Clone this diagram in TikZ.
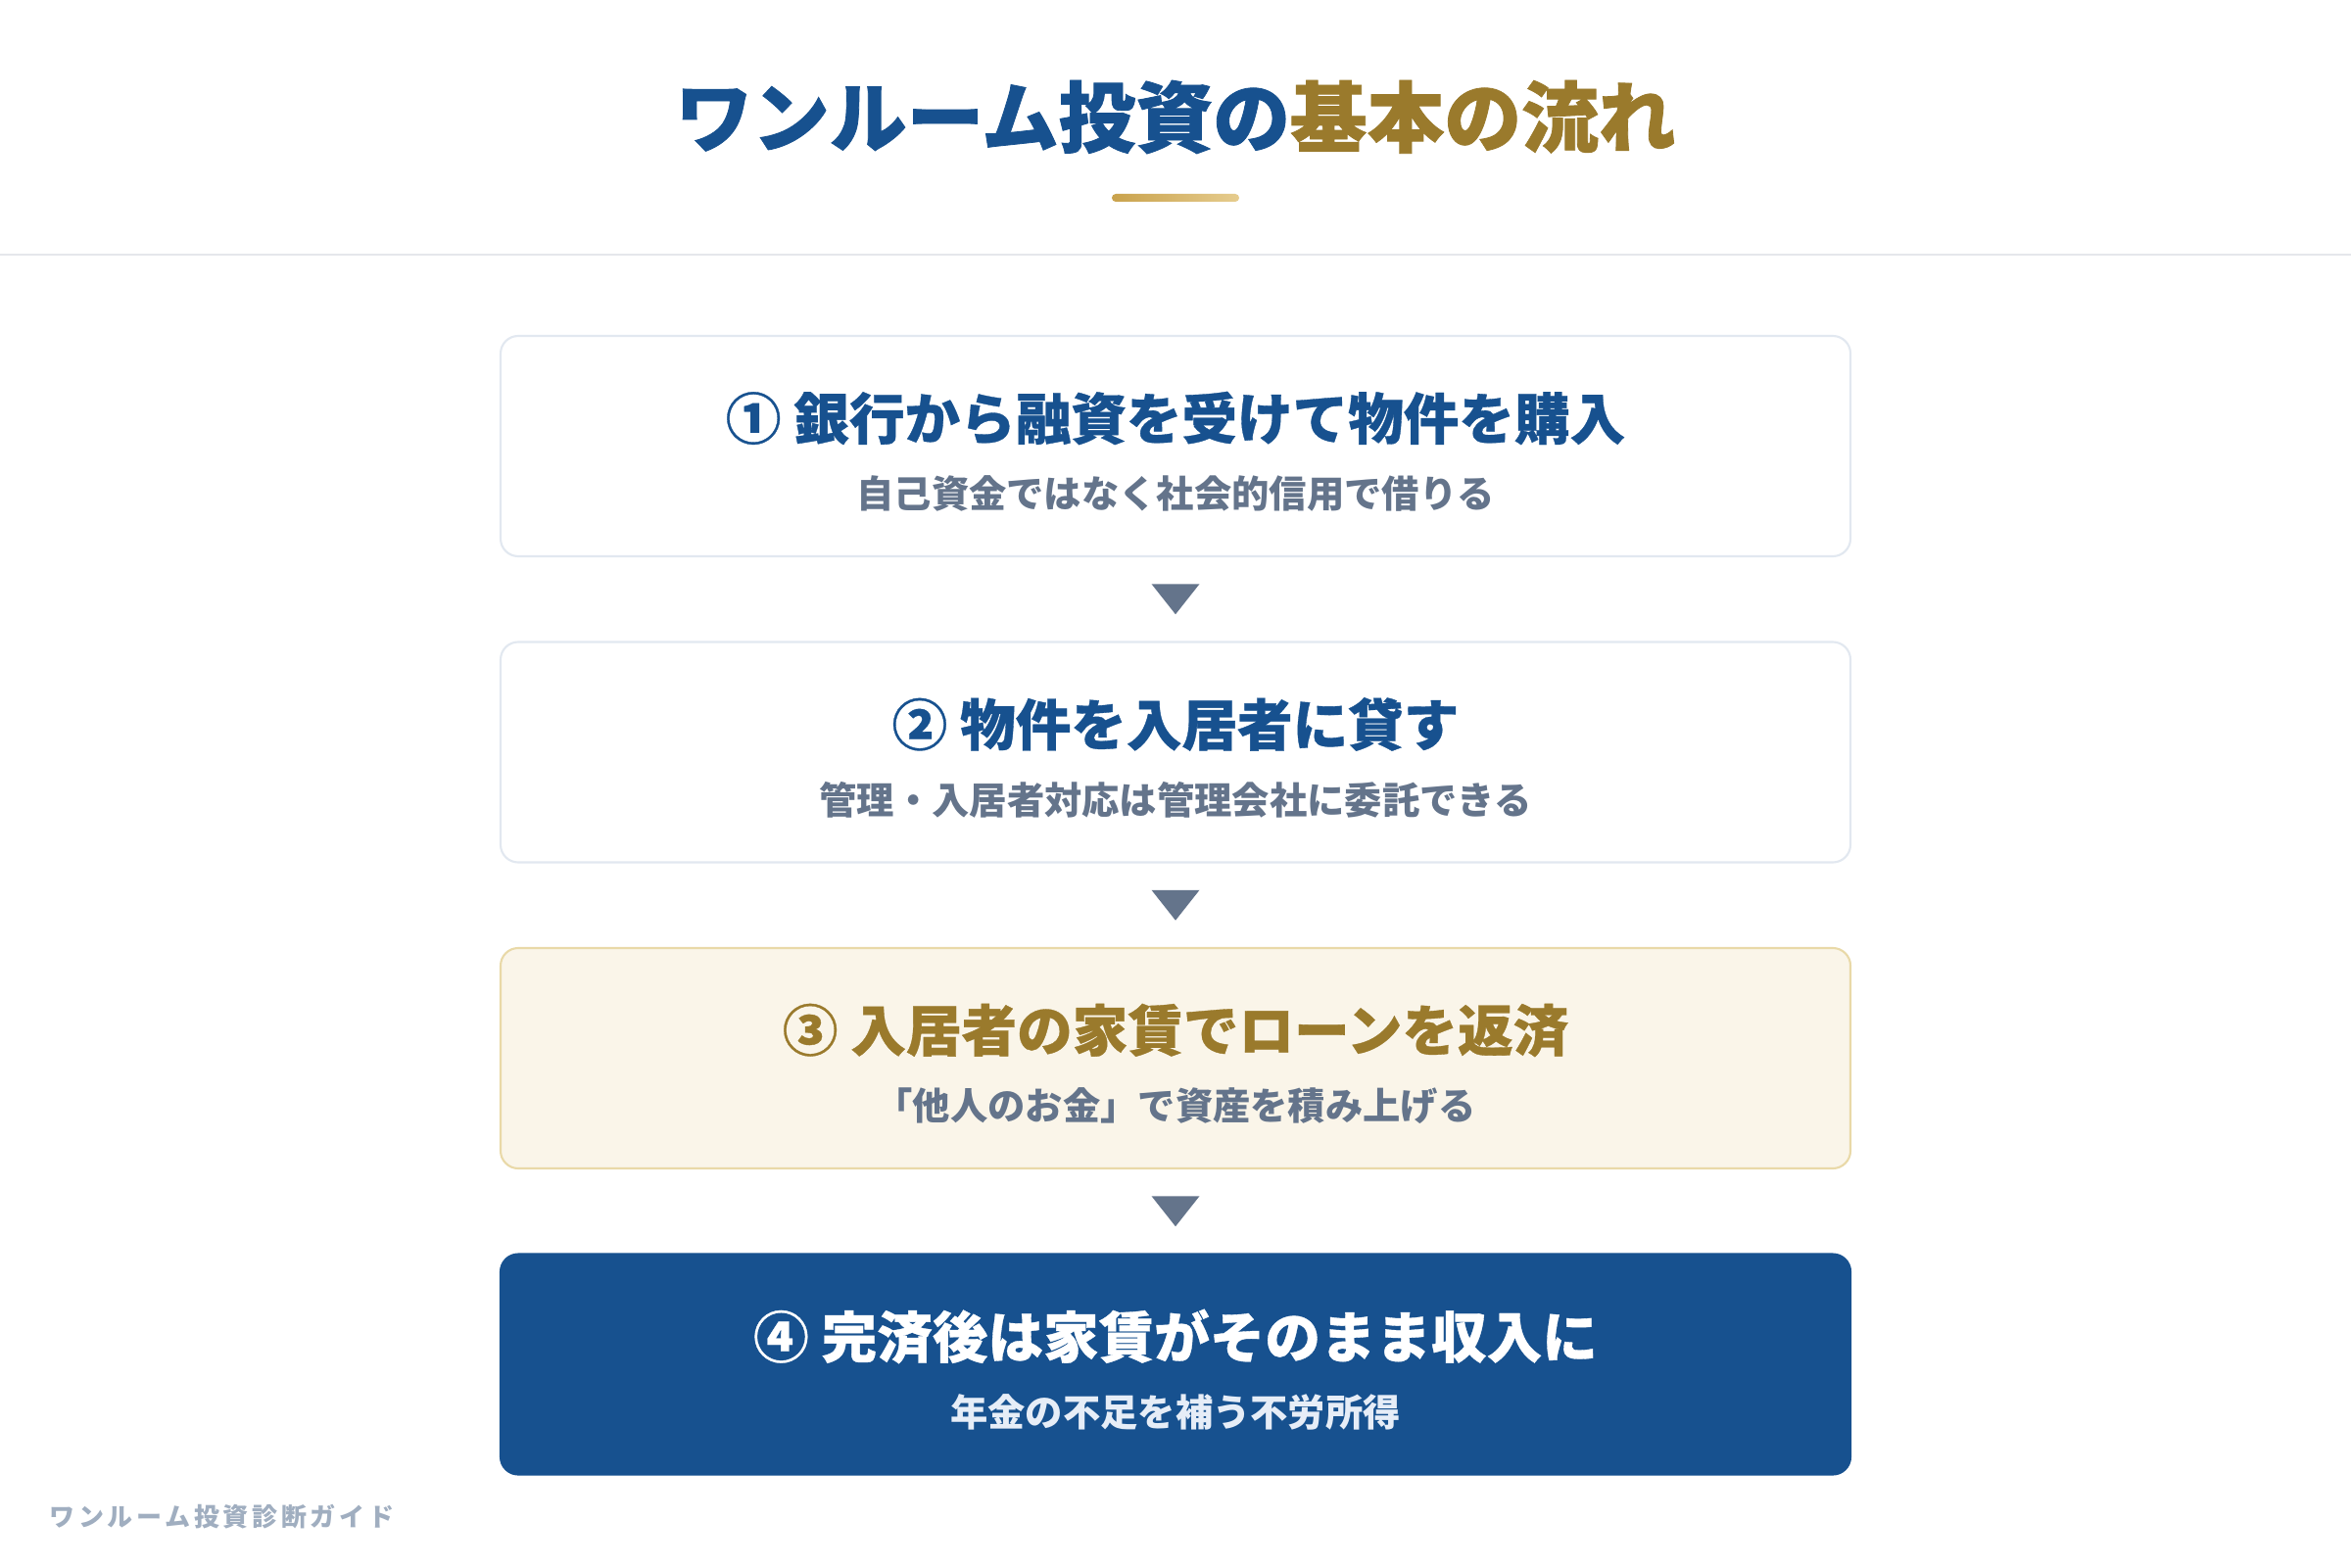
\documentclass[tikz,border=0pt]{standalone}
\usepackage{fontspec}
\usepackage{xcolor}
\usepackage{tikz}
\usetikzlibrary{positioning, calc}

\newfontfamily\cjk{Noto Sans CJK JP}

\definecolor{navy}{HTML}{17518F}
\definecolor{gold}{HTML}{9A7A2C}
\definecolor{slate}{HTML}{64748B}
\definecolor{boxline}{HTML}{E2E8F0}
\definecolor{cream}{HTML}{FAF5E9}
\definecolor{creamline}{HTML}{E9D9A8}
\definecolor{paleblue}{HTML}{E6EDF7}
\definecolor{rulegray}{HTML}{E5E7EB}
\definecolor{footgray}{HTML}{A0AEC0}
\definecolor{barleft}{HTML}{C9A24C}
\definecolor{barright}{HTML}{E6CC8E}

\begin{document}
\begin{tikzpicture}[node distance=8.75mm,
    stepbox/.style={draw=boxline, line width=0.6pt, fill=white, rounded corners=1.8mm,
        minimum width=13.78cm, minimum height=2.25cm, inner sep=0pt, outer sep=0pt},
    steptitle/.style={font=\cjk\bfseries\fontsize{16.1}{19}\selectfont\addfontfeature{FakeBold=0.6}, inner sep=0pt},
    stepnote/.style={font=\cjk\bfseries\fontsize{10.9}{13}\selectfont, text=slate, inner sep=0pt},
    goldbar/.style={left color=barleft, right color=barright, rounded corners=0.4mm,
        minimum width=1.3cm, minimum height=0.8mm, inner sep=0pt}]
    \fill[white] (0,0) rectangle (24,-16);
    \useasboundingbox (0,0) rectangle (24,-16);

    % Title
    \node[font=\cjk\bfseries\fontsize{22.4}{27}\selectfont\addfontfeature{FakeBold=1}, inner sep=0pt] (title) at (12,-1.195)
        {\textcolor{navy}{ワンルーム投資の}\textcolor{gold}{基本の流れ}};
    \node[goldbar] (bar) at (12,-2.02) {};
    \draw[rulegray, line width=0.5pt] (0,-2.6) -- (24,-2.6);

    % Steps
    \node[stepbox] (step1) at (12,-4.555) {};
    \node[stepbox, below=of step1] (step2) {};
    \node[stepbox, fill=cream, draw=creamline, below=of step2] (step3) {};
    \node[stepbox, fill=navy, draw=navy, below=of step3] (step4) {};

    \node[steptitle, text=navy] (head1) at ([yshift=2.85mm]step1.center) {① 銀行から融資を受けて物件を購入};
    \node[stepnote] (note1) at ([yshift=-4.85mm]step1.center) {自己資金ではなく社会的信用で借りる};
    \node[steptitle, text=navy] (head2) at ([yshift=2.85mm]step2.center) {② 物件を入居者に貸す};
    \node[stepnote] (note2) at ([yshift=-4.85mm]step2.center) {管理・入居者対応は管理会社に委託できる};
    \node[steptitle, text=gold] (head3) at ([yshift=2.85mm]step3.center) {③ 入居者の家賃でローンを返済};
    \node[stepnote] (note3) at ([yshift=-4.85mm]step3.center) {「他人のお金」で資産を積み上げる};
    \node[steptitle, text=white] (head4) at ([yshift=2.85mm]step4.center) {④ 完済後は家賃がそのまま収入に};
    \node[stepnote, text=paleblue] (note4) at ([yshift=-4.85mm]step4.center) {年金の不足を補う不労所得};

    % Arrows
    \foreach \i/\j in {step1/step2, step2/step3, step3/step4}
        \fill[slate] ($(\i.south)!0.5!(\j.north)$) ++(-2.45mm,1.55mm) -- ++(4.9mm,0) -- ++(-2.45mm,-3.1mm) -- cycle;

    % Footer
    \node[anchor=west, text=footgray, inner sep=0pt,
        font=\cjk\bfseries\fontsize{7.4}{9}\selectfont\addfontfeature{LetterSpace=14}] (footer) at (0.5,-15.49)
        {ワンルーム投資診断ガイド};
\end{tikzpicture}
\end{document}
